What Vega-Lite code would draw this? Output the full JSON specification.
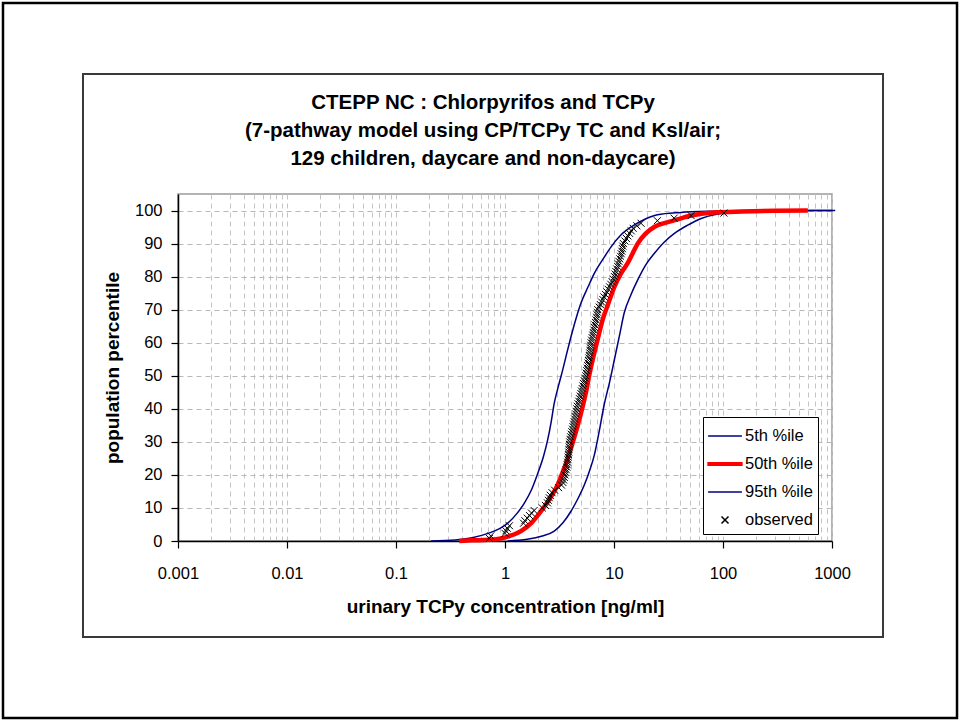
{
  "$schema": "https://vega.github.io/schema/vega-lite/v6.json",
  "width": 654,
  "height": 347,
  "autosize": {"type": "none"},
  "padding": {"left": 178, "top": 194, "right": 128, "bottom": 180},
  "background": "white",
  "title": {
    "text": ["CTEPP NC : Chlorpyrifos and TCPy", "(7-pathway model using CP/TCPy TC and Ksl/air;", "129 children, daycare and non-daycare)"],
    "anchor": "middle",
    "frame": "group",
    "dx": -22,
    "offset": -167.5,
    "fontSize": 20.5,
    "fontWeight": "bold",
    "font": "Liberation Sans",
    "lineHeight": 28,
    "color": "#000000"
  },
  "config": {
    "font": "Liberation Sans",
    "view": {"stroke": "#9a9a9a", "strokeWidth": 1.5},
    "axisX": {
      "grid": true, "gridDash": [5, 4], "gridColor": "#c4c4c4", "gridWidth": 1,
      "tickSize": 7, "tickColor": "#000000", "tickWidth": 1.2,
      "domainColor": "#000000", "domainWidth": 1.5,
      "labelPadding": 17, "labelFontSize": 16.5, "labelFont": "Liberation Sans", "labelColor": "#000000",
      "labelFlush": false, "labelOverlap": false,
      "titleFontSize": 19, "titleFontWeight": "bold", "titleFont": "Liberation Sans", "titleColor": "#000000", "titlePadding": 16
    },
    "axisY": {
      "grid": true, "gridDash": [5, 4], "gridColor": "#b8b8b8", "gridWidth": 1,
      "tickSize": 7, "tickColor": "#000000", "tickWidth": 1.2,
      "domainColor": "#000000", "domainWidth": 1.5,
      "labelPadding": 9, "labelFontSize": 16.5, "labelFont": "Liberation Sans", "labelColor": "#000000",
      "labelFlush": false, "labelOverlap": false,
      "titleFontSize": 19, "titleFontWeight": "bold", "titleFont": "Liberation Sans", "titleColor": "#000000", "titlePadding": 12
    }
  },
  "datasets": {
    "curves": [
      {"series": "5th %ile", "conc": 0.21, "pct": 0},
      {"series": "5th %ile", "conc": 0.35, "pct": 0.3},
      {"series": "5th %ile", "conc": 0.5, "pct": 1.0},
      {"series": "5th %ile", "conc": 0.7, "pct": 2.3},
      {"series": "5th %ile", "conc": 0.9, "pct": 3.8},
      {"series": "5th %ile", "conc": 1.06, "pct": 5.4},
      {"series": "5th %ile", "conc": 1.3, "pct": 8.5},
      {"series": "5th %ile", "conc": 1.5, "pct": 11.4},
      {"series": "5th %ile", "conc": 1.75, "pct": 15.5},
      {"series": "5th %ile", "conc": 2.0, "pct": 20.5},
      {"series": "5th %ile", "conc": 2.25, "pct": 25.5},
      {"series": "5th %ile", "conc": 2.46, "pct": 30.5},
      {"series": "5th %ile", "conc": 2.65, "pct": 36},
      {"series": "5th %ile", "conc": 2.83, "pct": 41.7},
      {"series": "5th %ile", "conc": 3.1, "pct": 47},
      {"series": "5th %ile", "conc": 3.38, "pct": 51.7},
      {"series": "5th %ile", "conc": 3.7, "pct": 57},
      {"series": "5th %ile", "conc": 4.03, "pct": 61.8},
      {"series": "5th %ile", "conc": 4.5, "pct": 67.5},
      {"series": "5th %ile", "conc": 4.98, "pct": 72},
      {"series": "5th %ile", "conc": 5.8, "pct": 77},
      {"series": "5th %ile", "conc": 6.6, "pct": 81},
      {"series": "5th %ile", "conc": 8.0, "pct": 85.5},
      {"series": "5th %ile", "conc": 9.4, "pct": 89},
      {"series": "5th %ile", "conc": 11.5, "pct": 92.5},
      {"series": "5th %ile", "conc": 14.3, "pct": 95},
      {"series": "5th %ile", "conc": 19, "pct": 97.3},
      {"series": "5th %ile", "conc": 25, "pct": 98.7},
      {"series": "5th %ile", "conc": 41, "pct": 99.4},
      {"series": "5th %ile", "conc": 80, "pct": 99.8},
      {"series": "5th %ile", "conc": 200, "pct": 100},
      {"series": "5th %ile", "conc": 1000, "pct": 100},
      {"series": "95th %ile", "conc": 1.06, "pct": 0},
      {"series": "95th %ile", "conc": 1.3, "pct": 0.2},
      {"series": "95th %ile", "conc": 1.6, "pct": 0.5},
      {"series": "95th %ile", "conc": 2.2, "pct": 1.5},
      {"series": "95th %ile", "conc": 2.83, "pct": 3},
      {"series": "95th %ile", "conc": 3.4, "pct": 5.5},
      {"series": "95th %ile", "conc": 4.03, "pct": 9},
      {"series": "95th %ile", "conc": 4.7, "pct": 13},
      {"series": "95th %ile", "conc": 5.35, "pct": 17},
      {"series": "95th %ile", "conc": 6.0, "pct": 21.5},
      {"series": "95th %ile", "conc": 6.6, "pct": 26},
      {"series": "95th %ile", "conc": 7.3, "pct": 33},
      {"series": "95th %ile", "conc": 8.1, "pct": 41},
      {"series": "95th %ile", "conc": 9.1, "pct": 48},
      {"series": "95th %ile", "conc": 10.1, "pct": 55},
      {"series": "95th %ile", "conc": 11.2, "pct": 62},
      {"series": "95th %ile", "conc": 12.4, "pct": 69},
      {"series": "95th %ile", "conc": 14.3, "pct": 74.5},
      {"series": "95th %ile", "conc": 16.5, "pct": 79},
      {"series": "95th %ile", "conc": 19.5, "pct": 83.5},
      {"series": "95th %ile", "conc": 23.4, "pct": 87},
      {"series": "95th %ile", "conc": 29, "pct": 90.5},
      {"series": "95th %ile", "conc": 35.6, "pct": 93},
      {"series": "95th %ile", "conc": 47, "pct": 95.5},
      {"series": "95th %ile", "conc": 63, "pct": 97.6},
      {"series": "95th %ile", "conc": 85, "pct": 98.8},
      {"series": "95th %ile", "conc": 118, "pct": 99.4},
      {"series": "95th %ile", "conc": 250, "pct": 99.8},
      {"series": "95th %ile", "conc": 680, "pct": 100},
      {"series": "95th %ile", "conc": 1070, "pct": 100},
      {"series": "50th %ile", "conc": 0.38, "pct": 0},
      {"series": "50th %ile", "conc": 0.5, "pct": 0.2},
      {"series": "50th %ile", "conc": 0.7, "pct": 0.35},
      {"series": "50th %ile", "conc": 0.86, "pct": 0.6},
      {"series": "50th %ile", "conc": 1.1, "pct": 1.5},
      {"series": "50th %ile", "conc": 1.4, "pct": 3},
      {"series": "50th %ile", "conc": 1.75, "pct": 5.5},
      {"series": "50th %ile", "conc": 2.14, "pct": 9},
      {"series": "50th %ile", "conc": 2.6, "pct": 13},
      {"series": "50th %ile", "conc": 3.04, "pct": 17},
      {"series": "50th %ile", "conc": 3.4, "pct": 21},
      {"series": "50th %ile", "conc": 3.76, "pct": 25},
      {"series": "50th %ile", "conc": 4.2, "pct": 30},
      {"series": "50th %ile", "conc": 4.65, "pct": 35},
      {"series": "50th %ile", "conc": 5.1, "pct": 40},
      {"series": "50th %ile", "conc": 5.53, "pct": 45},
      {"series": "50th %ile", "conc": 6.0, "pct": 51},
      {"series": "50th %ile", "conc": 6.6, "pct": 57},
      {"series": "50th %ile", "conc": 7.2, "pct": 62},
      {"series": "50th %ile", "conc": 7.87, "pct": 67},
      {"series": "50th %ile", "conc": 8.9, "pct": 72},
      {"series": "50th %ile", "conc": 10.1, "pct": 77},
      {"series": "50th %ile", "conc": 11.6, "pct": 81},
      {"series": "50th %ile", "conc": 13.3, "pct": 84},
      {"series": "50th %ile", "conc": 14.8, "pct": 87},
      {"series": "50th %ile", "conc": 16.5, "pct": 90},
      {"series": "50th %ile", "conc": 19.5, "pct": 93},
      {"series": "50th %ile", "conc": 23.4, "pct": 95},
      {"series": "50th %ile", "conc": 29, "pct": 96.2},
      {"series": "50th %ile", "conc": 35.6, "pct": 97},
      {"series": "50th %ile", "conc": 50, "pct": 98.4},
      {"series": "50th %ile", "conc": 83, "pct": 99.4},
      {"series": "50th %ile", "conc": 150, "pct": 99.7},
      {"series": "50th %ile", "conc": 300, "pct": 99.9},
      {"series": "50th %ile", "conc": 600, "pct": 100}
    ],
    "obs": [
      {"series": "observed", "conc": 0.72, "pct": 0.77},
      {"series": "observed", "conc": 0.74, "pct": 1.54},
      {"series": "observed", "conc": 1.0, "pct": 2.31},
      {"series": "observed", "conc": 1.02, "pct": 3.08},
      {"series": "observed", "conc": 1.05, "pct": 3.85},
      {"series": "observed", "conc": 1.1, "pct": 4.62},
      {"series": "observed", "conc": 1.48, "pct": 5.38},
      {"series": "observed", "conc": 1.52, "pct": 6.15},
      {"series": "observed", "conc": 1.6, "pct": 6.92},
      {"series": "observed", "conc": 1.68, "pct": 7.69},
      {"series": "observed", "conc": 1.75, "pct": 8.46},
      {"series": "observed", "conc": 1.85, "pct": 9.23},
      {"series": "observed", "conc": 2.2, "pct": 10.0},
      {"series": "observed", "conc": 2.35, "pct": 10.77},
      {"series": "observed", "conc": 2.45, "pct": 11.54},
      {"series": "observed", "conc": 2.5, "pct": 12.31},
      {"series": "observed", "conc": 2.55, "pct": 13.08},
      {"series": "observed", "conc": 2.6, "pct": 13.85},
      {"series": "observed", "conc": 2.7, "pct": 14.62},
      {"series": "observed", "conc": 2.85, "pct": 15.38},
      {"series": "observed", "conc": 3.1, "pct": 16.15},
      {"series": "observed", "conc": 3.3, "pct": 16.92},
      {"series": "observed", "conc": 3.4, "pct": 17.69},
      {"series": "observed", "conc": 3.45, "pct": 18.46},
      {"series": "observed", "conc": 3.5, "pct": 19.23},
      {"series": "observed", "conc": 3.55, "pct": 20.0},
      {"series": "observed", "conc": 3.6, "pct": 20.77},
      {"series": "observed", "conc": 3.65, "pct": 21.54},
      {"series": "observed", "conc": 3.7, "pct": 22.31},
      {"series": "observed", "conc": 3.72, "pct": 23.08},
      {"series": "observed", "conc": 3.75, "pct": 23.85},
      {"series": "observed", "conc": 3.78, "pct": 24.62},
      {"series": "observed", "conc": 3.8, "pct": 25.38},
      {"series": "observed", "conc": 3.82, "pct": 26.15},
      {"series": "observed", "conc": 3.84, "pct": 26.92},
      {"series": "observed", "conc": 3.86, "pct": 27.69},
      {"series": "observed", "conc": 3.88, "pct": 28.46},
      {"series": "observed", "conc": 3.9, "pct": 29.23},
      {"series": "observed", "conc": 3.92, "pct": 30.0},
      {"series": "observed", "conc": 3.95, "pct": 30.77},
      {"series": "observed", "conc": 4.0, "pct": 31.54},
      {"series": "observed", "conc": 4.05, "pct": 32.31},
      {"series": "observed", "conc": 4.1, "pct": 33.08},
      {"series": "observed", "conc": 4.16, "pct": 33.85},
      {"series": "observed", "conc": 4.2, "pct": 34.62},
      {"series": "observed", "conc": 4.25, "pct": 35.38},
      {"series": "observed", "conc": 4.3, "pct": 36.15},
      {"series": "observed", "conc": 4.35, "pct": 36.92},
      {"series": "observed", "conc": 4.4, "pct": 37.69},
      {"series": "observed", "conc": 4.45, "pct": 38.46},
      {"series": "observed", "conc": 4.5, "pct": 39.23},
      {"series": "observed", "conc": 4.55, "pct": 40.0},
      {"series": "observed", "conc": 4.6, "pct": 40.77},
      {"series": "observed", "conc": 4.68, "pct": 41.54},
      {"series": "observed", "conc": 4.75, "pct": 42.31},
      {"series": "observed", "conc": 4.82, "pct": 43.08},
      {"series": "observed", "conc": 4.9, "pct": 43.85},
      {"series": "observed", "conc": 4.97, "pct": 44.62},
      {"series": "observed", "conc": 5.03, "pct": 45.38},
      {"series": "observed", "conc": 5.1, "pct": 46.15},
      {"series": "observed", "conc": 5.18, "pct": 46.92},
      {"series": "observed", "conc": 5.25, "pct": 47.69},
      {"series": "observed", "conc": 5.33, "pct": 48.46},
      {"series": "observed", "conc": 5.42, "pct": 49.23},
      {"series": "observed", "conc": 5.5, "pct": 50.0},
      {"series": "observed", "conc": 5.56, "pct": 50.77},
      {"series": "observed", "conc": 5.62, "pct": 51.54},
      {"series": "observed", "conc": 5.68, "pct": 52.31},
      {"series": "observed", "conc": 5.73, "pct": 53.08},
      {"series": "observed", "conc": 5.78, "pct": 53.85},
      {"series": "observed", "conc": 5.83, "pct": 54.62},
      {"series": "observed", "conc": 5.88, "pct": 55.38},
      {"series": "observed", "conc": 5.93, "pct": 56.15},
      {"series": "observed", "conc": 5.98, "pct": 56.92},
      {"series": "observed", "conc": 6.03, "pct": 57.69},
      {"series": "observed", "conc": 6.07, "pct": 58.46},
      {"series": "observed", "conc": 6.11, "pct": 59.23},
      {"series": "observed", "conc": 6.15, "pct": 60.0},
      {"series": "observed", "conc": 6.22, "pct": 60.77},
      {"series": "observed", "conc": 6.3, "pct": 61.54},
      {"series": "observed", "conc": 6.38, "pct": 62.31},
      {"series": "observed", "conc": 6.45, "pct": 63.08},
      {"series": "observed", "conc": 6.52, "pct": 63.85},
      {"series": "observed", "conc": 6.6, "pct": 64.62},
      {"series": "observed", "conc": 6.68, "pct": 65.38},
      {"series": "observed", "conc": 6.76, "pct": 66.15},
      {"series": "observed", "conc": 6.84, "pct": 66.92},
      {"series": "observed", "conc": 6.92, "pct": 67.69},
      {"series": "observed", "conc": 7.0, "pct": 68.46},
      {"series": "observed", "conc": 7.05, "pct": 69.23},
      {"series": "observed", "conc": 7.1, "pct": 70.0},
      {"series": "observed", "conc": 7.3, "pct": 70.77},
      {"series": "observed", "conc": 7.5, "pct": 71.54},
      {"series": "observed", "conc": 7.7, "pct": 72.31},
      {"series": "observed", "conc": 7.9, "pct": 73.08},
      {"series": "observed", "conc": 8.1, "pct": 73.85},
      {"series": "observed", "conc": 8.35, "pct": 74.62},
      {"series": "observed", "conc": 8.6, "pct": 75.38},
      {"series": "observed", "conc": 8.85, "pct": 76.15},
      {"series": "observed", "conc": 9.1, "pct": 76.92},
      {"series": "observed", "conc": 9.35, "pct": 77.69},
      {"series": "observed", "conc": 9.6, "pct": 78.46},
      {"series": "observed", "conc": 9.85, "pct": 79.23},
      {"series": "observed", "conc": 10.1, "pct": 80.0},
      {"series": "observed", "conc": 10.25, "pct": 80.77},
      {"series": "observed", "conc": 10.4, "pct": 81.54},
      {"series": "observed", "conc": 10.6, "pct": 82.31},
      {"series": "observed", "conc": 10.8, "pct": 83.08},
      {"series": "observed", "conc": 10.95, "pct": 83.85},
      {"series": "observed", "conc": 11.1, "pct": 84.62},
      {"series": "observed", "conc": 11.3, "pct": 85.38},
      {"series": "observed", "conc": 11.5, "pct": 86.15},
      {"series": "observed", "conc": 11.65, "pct": 86.92},
      {"series": "observed", "conc": 11.8, "pct": 87.69},
      {"series": "observed", "conc": 11.95, "pct": 88.46},
      {"series": "observed", "conc": 12.05, "pct": 89.23},
      {"series": "observed", "conc": 12.2, "pct": 90.0},
      {"series": "observed", "conc": 12.6, "pct": 90.77},
      {"series": "observed", "conc": 13.0, "pct": 91.54},
      {"series": "observed", "conc": 13.4, "pct": 92.31},
      {"series": "observed", "conc": 13.9, "pct": 93.08},
      {"series": "observed", "conc": 14.4, "pct": 93.85},
      {"series": "observed", "conc": 15.0, "pct": 94.62},
      {"series": "observed", "conc": 16.2, "pct": 95.38},
      {"series": "observed", "conc": 17.7, "pct": 96.15},
      {"series": "observed", "conc": 25, "pct": 96.92},
      {"series": "observed", "conc": 35.6, "pct": 97.69},
      {"series": "observed", "conc": 51, "pct": 98.46},
      {"series": "observed", "conc": 102, "pct": 99.23}
    ]
  },
  "layer": [
    {
      "data": {"name": "curves"},
      "mark": {"type": "line", "interpolate": "monotone", "clip": false},
      "encoding": {
        "x": {
          "field": "conc", "type": "quantitative",
          "scale": {"type": "log", "domain": [0.001, 1000]},
          "axis": {
            "title": "urinary TCPy concentration [ng/ml]",
            "values": [0.001, 0.002, 0.003, 0.004, 0.005, 0.006, 0.007, 0.008, 0.009, 0.01, 0.02, 0.03, 0.04, 0.05, 0.06, 0.07, 0.08, 0.09, 0.1, 0.2, 0.3, 0.4, 0.5, 0.6, 0.7, 0.8, 0.9, 1, 2, 3, 4, 5, 6, 7, 8, 9, 10, 20, 30, 40, 50, 60, 70, 80, 90, 100, 200, 300, 400, 500, 600, 700, 800, 900, 1000],
            "labelExpr": "abs(log(datum.value)/LN10 - round(log(datum.value)/LN10)) < 0.001 ? format(datum.value, '~g') : ''",
            "tickOpacity": {"condition": {"test": "abs(log(datum.value)/LN10 - round(log(datum.value)/LN10)) < 0.001", "value": 1}, "value": 0}
          }
        },
        "y": {
          "field": "pct", "type": "quantitative",
          "scale": {"domain": [0, 105], "nice": false},
          "axis": {"title": "population percentile", "values": [0, 10, 20, 30, 40, 50, 60, 70, 80, 90, 100]}
        },
        "color": {
          "field": "series", "type": "nominal",
          "scale": {"domain": ["5th %ile", "50th %ile", "95th %ile", "observed"], "range": ["#000080", "#ff0000", "#000080", "#000000"]},
          "legend": {
            "title": null,
            "orient": "none",
            "legendX": 525,
            "legendY": 223,
            "strokeColor": "#000000",
            "fillColor": "#ffffff",
            "padding": 5,
            "symbolOffset": 3,
            "symbolSize": 676,
            "symbolStrokeWidth": 1.5,
            "labelFontSize": 16.5,
            "labelFont": "Liberation Sans",
            "labelColor": "#000000",
            "labelOffset": 6,
            "rowPadding": 5,
            "encode": {
              "symbols": {
                "update": {
                  "shape": {"signal": "datum.value === 'observed' ? 'M-0.27,-0.27L0.27,0.27M-0.27,0.27L0.27,-0.27' : (datum.value === '50th %ile' ? 'M-1.3,-0.1H1.3V0.1H-1.3Z' : 'M-1.3,0H1.3')"},
                  "fill": {"signal": "datum.value === '50th %ile' ? '#ff0000' : 'transparent'"}
                }
              }
            }
          }
        },
        "strokeWidth": {"condition": {"test": "datum.series === '50th %ile'", "value": 4.5}, "value": 1.5}
      }
    },
    {
      "data": {"name": "obs"},
      "mark": {"type": "point", "shape": "M-1,-1L1,1M-1,1L1,-1", "size": 49, "filled": false, "strokeWidth": 1, "opacity": 1, "clip": false},
      "encoding": {
        "x": {
          "field": "conc", "type": "quantitative",
          "scale": {"type": "log", "domain": [0.001, 1000]},
          "axis": {
            "title": "urinary TCPy concentration [ng/ml]",
            "values": [0.001, 0.002, 0.003, 0.004, 0.005, 0.006, 0.007, 0.008, 0.009, 0.01, 0.02, 0.03, 0.04, 0.05, 0.06, 0.07, 0.08, 0.09, 0.1, 0.2, 0.3, 0.4, 0.5, 0.6, 0.7, 0.8, 0.9, 1, 2, 3, 4, 5, 6, 7, 8, 9, 10, 20, 30, 40, 50, 60, 70, 80, 90, 100, 200, 300, 400, 500, 600, 700, 800, 900, 1000],
            "labelExpr": "abs(log(datum.value)/LN10 - round(log(datum.value)/LN10)) < 0.001 ? format(datum.value, '~g') : ''",
            "tickOpacity": {"condition": {"test": "abs(log(datum.value)/LN10 - round(log(datum.value)/LN10)) < 0.001", "value": 1}, "value": 0}
          }
        },
        "y": {
          "field": "pct", "type": "quantitative",
          "scale": {"domain": [0, 105], "nice": false},
          "axis": {"title": "population percentile", "values": [0, 10, 20, 30, 40, 50, 60, 70, 80, 90, 100]}
        },
        "color": {
          "field": "series", "type": "nominal",
          "scale": {"domain": ["5th %ile", "50th %ile", "95th %ile", "observed"], "range": ["#000080", "#ff0000", "#000080", "#000000"]}
        }
      }
    },
    {
      "data": {"values": [{}]},
      "mark": {"type": "rect", "fillOpacity": 0, "stroke": "#000000", "strokeWidth": 2.5, "clip": false},
      "encoding": {
        "x": {
          "datum": 0.0000248, "type": "quantitative",
          "scale": {"type": "log", "domain": [0.001, 1000]},
          "axis": {
            "title": "urinary TCPy concentration [ng/ml]",
            "values": [0.001, 0.002, 0.003, 0.004, 0.005, 0.006, 0.007, 0.008, 0.009, 0.01, 0.02, 0.03, 0.04, 0.05, 0.06, 0.07, 0.08, 0.09, 0.1, 0.2, 0.3, 0.4, 0.5, 0.6, 0.7, 0.8, 0.9, 1, 2, 3, 4, 5, 6, 7, 8, 9, 10, 20, 30, 40, 50, 60, 70, 80, 90, 100, 200, 300, 400, 500, 600, 700, 800, 900, 1000],
            "labelExpr": "abs(log(datum.value)/LN10 - round(log(datum.value)/LN10)) < 0.001 ? format(datum.value, '~g') : ''",
            "tickOpacity": {"condition": {"test": "abs(log(datum.value)/LN10 - round(log(datum.value)/LN10)) < 0.001", "value": 1}, "value": 0}
          }
        },
        "x2": {"datum": 14025},
        "y": {
          "datum": 162.8, "type": "quantitative",
          "scale": {"domain": [0, 105], "nice": false},
          "axis": {"title": "population percentile", "values": [0, 10, 20, 30, 40, 50, 60, 70, 80, 90, 100]}
        },
        "y2": {"datum": -53.56}
      }
    },
    {
      "data": {"values": [{}]},
      "mark": {"type": "rect", "fillOpacity": 0, "stroke": "#3a3a3a", "strokeWidth": 2, "clip": false},
      "encoding": {
        "x": {
          "datum": 0.0001344, "type": "quantitative",
          "scale": {"type": "log", "domain": [0.001, 1000]},
          "axis": {
            "title": "urinary TCPy concentration [ng/ml]",
            "values": [0.001, 0.002, 0.003, 0.004, 0.005, 0.006, 0.007, 0.008, 0.009, 0.01, 0.02, 0.03, 0.04, 0.05, 0.06, 0.07, 0.08, 0.09, 0.1, 0.2, 0.3, 0.4, 0.5, 0.6, 0.7, 0.8, 0.9, 1, 2, 3, 4, 5, 6, 7, 8, 9, 10, 20, 30, 40, 50, 60, 70, 80, 90, 100, 200, 300, 400, 500, 600, 700, 800, 900, 1000],
            "labelExpr": "abs(log(datum.value)/LN10 - round(log(datum.value)/LN10)) < 0.001 ? format(datum.value, '~g') : ''",
            "tickOpacity": {"condition": {"test": "abs(log(datum.value)/LN10 - round(log(datum.value)/LN10)) < 0.001", "value": 1}, "value": 0}
          }
        },
        "x2": {"datum": 2937.6},
        "y": {
          "datum": 141.3, "type": "quantitative",
          "scale": {"domain": [0, 105], "nice": false},
          "axis": {"title": "population percentile", "values": [0, 10, 20, 30, 40, 50, 60, 70, 80, 90, 100]}
        },
        "y2": {"datum": -29.05}
      }
    }
  ]
}
